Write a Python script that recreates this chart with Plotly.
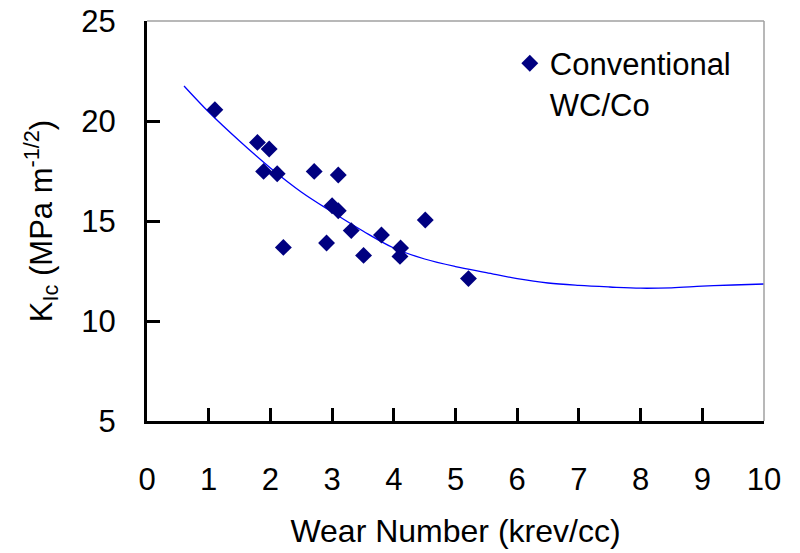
import plotly.graph_objects as go

# Data points (Wear Number, K_Ic)
wear_number = [1.10, 1.79, 1.98, 1.89, 2.11, 2.21, 2.71, 3.10, 3.00, 3.10,
               2.91, 3.31, 3.51, 3.80, 4.11, 4.10, 4.51, 5.21]
k_ic = [20.56, 18.93, 18.60, 17.48, 17.36, 13.68, 17.48, 17.30, 15.76, 15.51,
        13.90, 14.52, 13.28, 14.30, 13.65, 13.23, 15.05, 12.12]

# Trendline
trend_x = [0.6, 1.0, 1.5, 2.0, 2.5, 3.0, 3.5, 4.0, 4.5, 5.0,
           5.5, 6.0, 6.5, 7.0, 7.5, 8.0, 8.5, 9.0, 9.5, 10.0]
trend_y = [21.75, 20.45, 19.0, 17.65, 16.45, 15.45, 14.5, 13.65, 13.1, 12.72,
           12.42, 12.12, 11.9, 11.78, 11.70, 11.64, 11.66, 11.74, 11.8, 11.85]

x_ticks = [0, 1, 2, 3, 4, 5, 6, 7, 8, 9, 10]
y_ticks = [5, 10, 15, 20, 25]

FONT = "Liberation Sans, Arial, sans-serif"

fig = go.Figure()
fig.add_trace(go.Scatter(
    x=trend_x, y=trend_y, mode="lines", line=dict(color="#0000FF", width=1.3, shape="spline"),
    showlegend=False, hoverinfo="skip"))
fig.add_trace(go.Scatter(
    x=wear_number, y=k_ic, mode="markers", name="Conventional<br>WC/Co",
    marker=dict(symbol="diamond", size=13, color="#000080", line=dict(width=0))))

axis_common = dict(
    showgrid=False, zeroline=False, showline=True, linecolor="black", linewidth=3,
    ticks="inside", tickcolor="black", tickwidth=2.5, ticklen=13, automargin=False,
    tickfont=dict(family=FONT, size=31, color="black"),
)

fig.update_layout(
    width=800, height=553,
    margin=dict(l=147, r=36, t=21, b=131.5, autoexpand=False),
    paper_bgcolor="white", plot_bgcolor="white",
    font=dict(family=FONT, size=31, color="black"),
    xaxis=dict(range=[0, 10], tickvals=x_ticks, ticklabelstandoff=29,
               title=dict(text="Wear Number (krev/cc)", standoff=24,
                          font=dict(family=FONT, size=32)),
               **axis_common),
    yaxis=dict(range=[5, 25], tickvals=y_ticks, ticklabelstandoff=22,
               title=dict(text="K<sub>Ic</sub> (MPa m<sup>-1/2</sup>)", standoff=20,
                          font=dict(family=FONT, size=31)),
               **axis_common),
    legend=dict(x=0.588, y=0.961, xanchor="left", yanchor="top", valign="top",
                bgcolor="rgba(0,0,0,0)", font=dict(family=FONT, size=31),
                itemsizing="trace"),
    shapes=[
        dict(type="line", xref="paper", yref="paper", x0=0, x1=1, y0=1, y1=1,
             line=dict(color="#A0A0A0", width=1.5)),
        dict(type="line", xref="paper", yref="paper", x0=1, x1=1, y0=0, y1=1,
             line=dict(color="#A0A0A0", width=1.5)),
    ],
)

fig.write_html("out.html")
